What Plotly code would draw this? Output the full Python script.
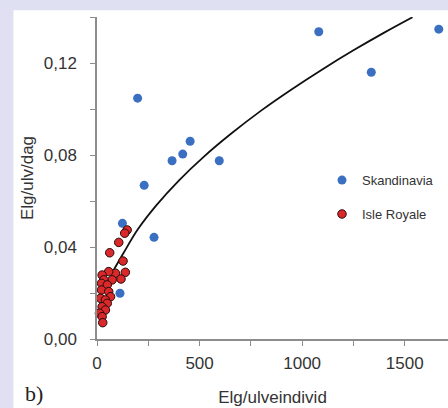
import plotly.graph_objects as go

# Data
skand_x = [1081, 1666, 1337, 198, 230, 366, 418, 454, 596, 124, 278, 112]
skand_y = [0.1336, 0.1347, 0.116, 0.1047, 0.0668, 0.0775, 0.0804, 0.086, 0.0775, 0.0503, 0.0442, 0.0199]

isle_x = [147, 135, 106, 62, 127, 138, 90, 57, 25, 117, 74, 33, 22, 50, 22, 57, 66, 17, 41, 50, 25, 41, 12, 25, 28]
isle_y = [0.0474, 0.046, 0.042, 0.0375, 0.0339, 0.029, 0.0286, 0.0293, 0.0278, 0.0261, 0.0257, 0.0257,
          0.0242, 0.0235, 0.0213, 0.0206, 0.0184, 0.0177, 0.017, 0.0155, 0.014, 0.0126, 0.0112, 0.0097, 0.0071]

curve_x = [80, 130, 200, 290, 400, 520, 650, 800, 950, 1100, 1250, 1400, 1538]
curve_y = [0.0298, 0.0375, 0.0478, 0.0582, 0.069, 0.0792, 0.089, 0.0993, 0.1086, 0.1173, 0.1255, 0.1332, 0.1399]

x_ticks = [0, 250, 500, 750, 1000, 1250, 1500]
x_labels = ["0", "", "500", "", "1000", "", "1500"]
y_ticks = [0, 0.02, 0.04, 0.06, 0.08, 0.10, 0.12, 0.14]
y_labels = ["0,00", "", "0,04", "", "0,08", "", "0,12", ""]

BLUE = "#3b6fc1"
RED = "#d9292a"
AXIS = "#8c8c8c"
FONT = "Liberation Sans, Arial, sans-serif"

fig = go.Figure()

fig.add_trace(go.Scatter(
    x=curve_x, y=curve_y, mode="lines", line=dict(color="#111111", width=1.8, shape="spline"),
    showlegend=False, hoverinfo="skip"))

fig.add_trace(go.Scatter(
    x=skand_x, y=skand_y, mode="markers", name="Skandinavia", legendgroup="a",
    marker=dict(color=BLUE, size=9, line=dict(width=0)), cliponaxis=False))

fig.add_trace(go.Scatter(
    x=isle_x, y=isle_y, mode="markers", name="Isle Royale", legendgroup="b",
    marker=dict(color=RED, size=8.5, line=dict(color="#2a0a0a", width=1)), cliponaxis=False))

fig.update_layout(
    width=448, height=408,
    margin=dict(l=97, r=0, t=17, b=69, autoexpand=False),
    paper_bgcolor="#dfe1f2",
    plot_bgcolor="white",
    font=dict(family=FONT, color="#333333", size=17),
    showlegend=True,
    legend=dict(x=0.641, y=0.54, xanchor="left", yanchor="top",
                bgcolor="rgba(0,0,0,0)", font=dict(size=13, color="#333333"),
                tracegroupgap=14, itemwidth=30),
    xaxis=dict(range=[0, 1711], showgrid=False, zeroline=False, showline=True,
               linecolor=AXIS, linewidth=1.5, ticks="outside", ticklen=5, tickcolor=AXIS,
               tickwidth=1.2, tickvals=x_ticks, ticktext=x_labels, ticklabelstandoff=3,
               title=dict(text="Elg/ulveindivid", font=dict(size=17), standoff=19)),
    yaxis=dict(range=[0, 0.14], showgrid=False, zeroline=False, showline=True,
               linecolor=AXIS, linewidth=1.5, ticks="outside", ticklen=5, tickcolor=AXIS,
               tickwidth=1.2, tickvals=y_ticks, ticktext=y_labels, ticklabelstandoff=10,
               title=dict(text="Elg/ulv/dag", font=dict(size=17), standoff=6)),
)

# white panel behind the plot
fig.add_shape(type="rect", xref="paper", yref="paper", x0=-0.238, x1=1.05, y0=-0.4, y1=1.021,
              fillcolor="white", line=dict(width=0), layer="below")

fig.add_annotation(text="b)", xref="paper", yref="paper", x=-0.21, y=-0.168,
                   xanchor="left", yanchor="middle", showarrow=False,
                   font=dict(family="Liberation Serif, Times New Roman, serif", size=22, color="#222222"))

fig.write_html("out.html", config={"displayModeBar": False},
               post_script="document.body.style.margin='0';document.body.style.padding='0';"
                           "document.body.style.overflow='hidden';")
